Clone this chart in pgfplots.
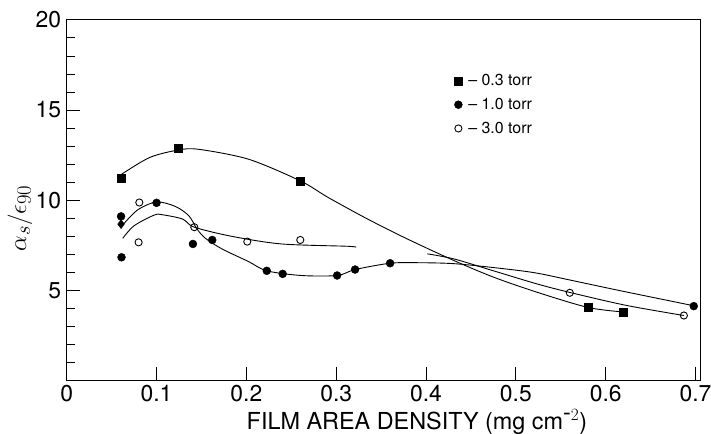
\documentclass[border=0pt]{standalone}
\usepackage{fontspec}
\setmainfont{TeX Gyre Heros}
\usepackage{pgfplots}
\pgfplotsset{compat=1.18}

\begin{document}
\begin{tikzpicture}
\useasboundingbox (-67pt,-53pt) rectangle (647pt,382pt);
\begin{axis}[
  at={(0,0)}, anchor=south west,
  scale only axis, width=636pt, height=362pt,
  xmin=0, xmax=0.705, ymin=0, ymax=20,
  xtick={0,0.1,0.2,0.3,0.4,0.5,0.6,0.7},
  xticklabels={0,0.1,0.2,0.3,0.4,0.5,0.6,0.7},
  ytick={5,10,15,20}, yticklabels={5,10,15,20},
  minor ytick={1,2,3,4,6,7,8,9,11,12,13,14,16,17,18,19},
  tick pos=left, tick align=inside,
  major tick length=13pt, minor tick length=8pt,
  every tick/.style={black, line width=0.9pt},
  axis line style={line width=1pt},
  tick label style={font=\fontsize{23}{26}\selectfont},
  yticklabel style={xshift=-2pt},
  xticklabel style={yshift=-1pt},
  xlabel={FILM AREA DENSITY (mg cm$^{\textrm{-}2}$)},
  xlabel style={font=\fontsize{23.5}{26}\selectfont, at={(axis description cs:0.553,-0.115)}, anchor=center},
  ylabel={$\alpha_{s}/\epsilon_{90}$},
  ylabel style={font=\fontsize{31}{36}\selectfont, at={(axis description cs:-0.074,0.45)}, anchor=center},
  legend style={draw=none, fill=none, font=\fontsize{16}{18}\selectfont,
    at={(axis cs:0.428,17.2)}, anchor=north west, row sep=7pt,
    legend cell align=left},
]
% fitted curves
\addplot[black, line width=0.9pt, smooth, forget plot] coordinates {
  (0.06,11.4) (0.092,12.36) (0.124,12.78) (0.147,12.82) (0.2025,12.27)
  (0.26,11.07) (0.291,10.15) (0.335,8.95) (0.379,7.85) (0.431,6.65)
  (0.475,5.73) (0.523,4.9) (0.58,4.05) (0.619,3.8)};
\addplot[black, line width=0.9pt, smooth, forget plot] coordinates {
  (0.0623,8.62) (0.079,9.46) (0.1,9.9) (0.121,9.65) (0.136,9.13)
  (0.145,8.4) (0.1545,7.88) (0.173,7.29) (0.2025,6.59) (0.2227,6.08)
  (0.261,5.82) (0.301,5.82) (0.321,6.15) (0.36,6.5) (0.39,6.53)
  (0.43,6.48) (0.475,6.26) (0.52,5.98) (0.56,5.57) (0.61,5.04)
  (0.65,4.63) (0.698,4.14)};
\addplot[black, line width=0.9pt, smooth, forget plot] coordinates {
  (0.0623,7.88) (0.075,8.58) (0.0973,9.17) (0.1065,9.19) (0.129,8.95)
  (0.142,8.5) (0.184,7.99) (0.239,7.57) (0.313,7.44) (0.322,7.38)};
\addplot[black, line width=0.9pt, smooth, forget plot] coordinates {
  (0.4015,7.02) (0.431,6.74) (0.475,6.08) (0.523,5.36) (0.56,4.88)
  (0.623,4.16) (0.687,3.6)};
% measured points
\addplot[only marks, mark=square*, mark size=4pt, black] coordinates {
  (0.0605,11.2) (0.124,12.9) (0.26,11.07) (0.58,4.05) (0.619,3.8)};
\addplot[only marks, mark=*, mark size=4pt, black] coordinates {
  (0.0605,9.1) (0.061,6.83) (0.1,9.85) (0.1405,7.57) (0.162,7.79)
  (0.2227,6.08) (0.2404,5.91) (0.301,5.82) (0.321,6.15) (0.36,6.5)
  (0.698,4.12)};
\addplot[only marks, mark=o, mark size=3.6pt, black, line width=0.9pt,
  mark options={fill=white}] coordinates {
  (0.0808,9.87) (0.08,7.66) (0.142,8.5) (0.201,7.7) (0.26,7.79)
  (0.56,4.86) (0.687,3.6)};
\addplot[only marks, mark=diamond*, mark size=4.5pt, black, forget plot] coordinates {
  (0.0605,8.67)};
\legend{{\kern4pt-- 0.3 torr}, {\kern4pt-- 1.0 torr}, {\kern4pt-- 3.0 torr}}
\end{axis}
\end{tikzpicture}
\end{document}
